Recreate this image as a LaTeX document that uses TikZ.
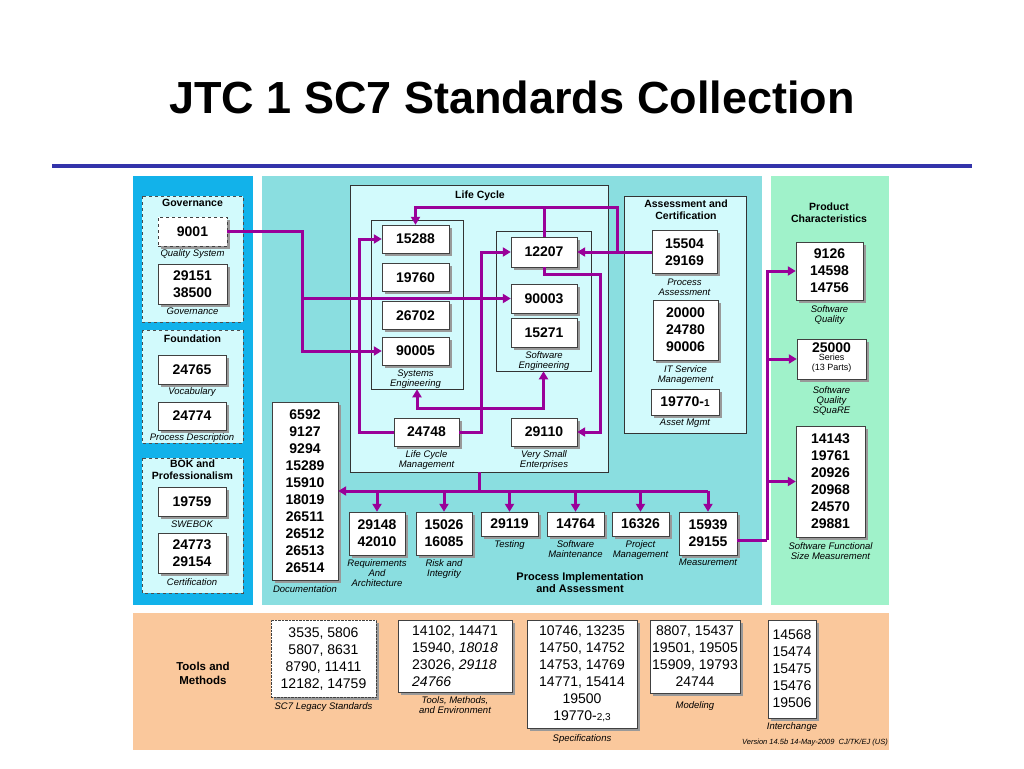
\documentclass[tikz,border=0pt]{standalone}
\usepackage{fontspec}
\setmainfont{Liberation Sans}
\usepackage{tikz}
\usetikzlibrary{positioning,shadows,arrows.meta}

\definecolor{lcpurple}{RGB}{153,0,153}
\definecolor{bluepanel}{RGB}{18,178,234}
\definecolor{tealpanel}{RGB}{138,222,224}
\definecolor{greenpanel}{RGB}{160,242,202}
\definecolor{orangepanel}{RGB}{250,200,156}
\definecolor{lightcyan}{RGB}{210,250,252}
\definecolor{rulecol}{RGB}{51,51,170}

\tikzset{
  std/.style={draw=black!75, fill=white, align=center, inner sep=1pt,
    font=\bfseries\fontsize{14}{17}\selectfont,
    drop shadow={shadow xshift=2.5pt, shadow yshift=-2.5pt, fill=black!40, opacity=1}},
  tool/.style={std, font=\fontsize{14}{17}\selectfont},
  grp/.style={draw=black!80, fill=lightcyan, line width=0.9pt},
  dgrp/.style={draw=black!70, fill=lightcyan, dashed, line width=0.8pt},
  ttl/.style={font=\bfseries\fontsize{10.5}{12}\selectfont, align=center, inner sep=0pt},
  lab/.style={font=\itshape\fontsize{9.5}{10}\selectfont, align=center, inner sep=0pt},
  line/.style={draw=lcpurple, line width=3pt},
  flow/.style={line, -{Triangle[length=8pt,width=9pt]}},
}

\begin{document}
\begin{tikzpicture}[x=1pt,y=-1pt]
\useasboundingbox (0,0) rectangle (1024,768);

% title and rule
\node[font=\bfseries\fontsize{45}{50}\selectfont] (title) at (512,97) {JTC 1 SC7 Standards Collection};
\draw[rulecol, line width=4pt] (52,166) -- (972,166);

% panels
\fill[bluepanel] (133,176) rectangle (253,605);
\fill[tealpanel] (262,176) rectangle (762,605);
\fill[greenpanel] (771,176) rectangle (889,605);
\fill[orangepanel] (133,613) rectangle (889,750);

% left column groups
\draw[dgrp] (142,196) rectangle (243,322);
\draw[dgrp] (142,330) rectangle (243,443);
\draw[dgrp] (142,458) rectangle (243,593);
\node[ttl] (tgov) at (192.5,203) {Governance};
\node[ttl] (tfou) at (192.5,339) {Foundation};
\node[ttl] (tbok) at (192.5,470) {BOK and\\Professionalism};

\node[std, dashed, minimum width=69, minimum height=29] (q9001) at (192.5,231.5) {9001};
\node[lab, below=3pt of q9001] (lq9001) {Quality System};
\node[std, minimum width=69, minimum height=40] (g29151) at (192.5,284) {29151\\38500};
\node[lab, below=3pt of g29151] (lg29151) {Governance};
\node[std, minimum width=68, minimum height=29] (f24765) at (192,369.5) {24765};
\node[lab, below=3pt of f24765] (lf24765) {Vocabulary};
\node[std, minimum width=68, minimum height=28] (f24774) at (192,416) {24774};
\node[lab, below=3pt of f24774] (lf24774) {Process Description};
\node[std, minimum width=68, minimum height=29] (b19759) at (192,501.5) {19759};
\node[lab, below=4pt of b19759] (lb19759) {SWEBOK};
\node[std, minimum width=68, minimum height=40] (b24773) at (192,553) {24773\\29154};
\node[lab, below=5pt of b24773] (lb24773) {Certification};

% life cycle
\node[grp, minimum width=258, minimum height=287] (lc) at (479,328.5) {};
\node[ttl] (tlc) at (480,196) {Life Cycle};
\node[grp, line width=0.6pt, minimum width=92, minimum height=169] (sysbox) at (417,304.5) {};
\node[grp, line width=0.6pt, minimum width=95, minimum height=140] (softbox) at (543.5,301) {};
\node[std, minimum width=67, minimum height=28] (s15288) at (415.5,239) {15288};
\node[std, minimum width=67, minimum height=28] (s19760) at (415.5,277.5) {19760};
\node[std, minimum width=67, minimum height=28] (s26702) at (415.5,315.5) {26702};
\node[std, minimum width=67, minimum height=28] (s90005) at (415.5,351) {90005};
\node[lab, below=4pt of s90005] (ls) {Systems\\Engineering};
\node[std, minimum width=66, minimum height=30] (s12207) at (544,252) {12207};
\node[std, minimum width=66, minimum height=29] (s90003) at (544,298.5) {90003};
\node[std, minimum width=66, minimum height=29] (s15271) at (544,332.5) {15271};
\node[lab, below=4pt of s15271] (lsw) {Software\\Engineering};
\node[std, minimum width=65, minimum height=28] (l24748) at (426.5,432) {24748};
\node[lab, below=4pt of l24748] (ll24748) {Life Cycle\\Management};
\node[std, minimum width=66, minimum height=28] (v29110) at (544,432) {29110};
\node[lab, below=4pt of v29110] (lv29110) {Very Small\\Enterprises};

% assessment and certification
\node[grp, minimum width=122, minimum height=237] (ac) at (685,314.5) {};
\node[ttl] (tac) at (686,210) {Assessment and\\Certification};
\node[std, minimum width=65, minimum height=43] (a15504) at (684.5,252) {15504\\29169};
\node[lab, below=5pt of a15504] (la15504) {Process\\Assessment};
\node[std, minimum width=65, minimum height=60] (a20000) at (685.5,330) {20000\\24780\\90006};
\node[lab, below=5pt of a20000] (la20000) {IT Service\\Management};
\node[std, minimum width=68, minimum height=26] (a19770) at (685,402) {19770-{\fontsize{10}{12}\selectfont 1}};
\node[lab, below=4pt of a19770] (la19770) {Asset Mgmt};

% process implementation
\node[std, minimum width=66, minimum height=178] (doc) at (305,491) {6592\\9127\\9294\\15289\\15910\\18019\\26511\\26512\\26513\\26514};
\node[lab, below=5pt of doc] (ldoc) {Documentation};
\node[std, minimum width=56, minimum height=43] (m29148) at (377,533.5) {29148\\42010};
\node[lab, below=4pt of m29148] (lm29148) {Requirements\\And\\Architecture};
\node[std, minimum width=56, minimum height=43] (m15026) at (444,533.5) {15026\\16085};
\node[lab, below=4pt of m15026] (lm15026) {Risk and\\Integrity};
\node[std, minimum width=57, minimum height=24] (m29119) at (509.5,524) {29119};
\node[lab, below=4pt of m29119] (lm29119) {Testing};
\node[std, minimum width=57, minimum height=24] (m14764) at (575.5,524) {14764};
\node[lab, below=4pt of m14764] (lm14764) {Software\\Maintenance};
\node[std, minimum width=57, minimum height=24] (m16326) at (640.5,524) {16326};
\node[lab, below=4pt of m16326] (lm16326) {Project\\Management};
\node[std, minimum width=58, minimum height=43] (m15939) at (708,533.5) {15939\\29155};
\node[lab, below=4pt of m15939] (lm15939) {Measurement};
\node[ttl, font=\bfseries\fontsize{11}{12}\selectfont] (tpia) at (580,583) {Process Implementation\\and Assessment};

% product characteristics
\node[ttl] (tpc) at (829,213) {Product\\Characteristics};
\node[std, minimum width=69, minimum height=40] (p25000) at (831.5,359) {};
\node[std, minimum width=67, minimum height=58] (p9126) at (829.5,271) {9126\\14598\\14756};
\node[lab, below=5pt of p9126] (lp9126) {Software\\Quality};
\node[font=\bfseries\fontsize{14}{14}\selectfont, inner sep=0pt] (t25000) at (831.5,348) {25000};
\node[font=\fontsize{9}{10}\selectfont, align=center, inner sep=0pt, below=1pt of t25000] (s25000) {Series\\(13 Parts)};
\node[lab, below=7pt of p25000] (lp25000) {Software\\Quality\\SQuaRE};
\node[std, minimum width=69, minimum height=111] (p14143) at (830.5,481.5) {14143\\19761\\20926\\20968\\24570\\29881};
\node[lab, below=5pt of p14143] (lp14143) {Software Functional\\Size Measurement};

% tools and methods
\node[font=\bfseries\fontsize{11.5}{14}\selectfont, align=center] (ttm) at (203,673) {Tools and\\Methods};
\node[tool, densely dotted, minimum width=105, minimum height=77] (t1) at (323.5,658.5) {3535, 5806\\5807, 8631\\8790, 11411\\12182, 14759};
\node[lab, below=5pt of t1] (lt1) {SC7 Legacy Standards};
\node[tool, minimum width=114, minimum height=72, align=left] (t2) at (455,656) {14102, 14471\\15940, \textit{18018}\\23026, \textit{29118}\\\textit{24766}};
\node[lab, below=4pt of t2] (lt2) {Tools, Methods,\\and Environment};
\node[tool, minimum width=110, minimum height=108] (t3) at (582,674) {10746, 13235\\14750, 14752\\14753, 14769\\14771, 15414\\19500\\19770-{\fontsize{10}{12}\selectfont 2,3}};
\node[lab, below=6pt of t3] (lt3) {Specifications};
\node[tool, minimum width=90, minimum height=73] (t4) at (695,656.5) {8807, 15437\\19501, 19505\\15909, 19793\\24744};
\node[lab, below=8pt of t4] (lt4) {Modeling};
\node[tool, minimum width=48, minimum height=98] (t5) at (792,669) {14568\\15474\\15475\\15476\\19506};
\node[lab, below=4pt of t5] (lt5) {Interchange};
\node[font=\itshape\fontsize{7.5}{8}\selectfont, anchor=east, inner sep=0pt] (ver) at (888,743) {Version 14.5b 14-May-2009 \ CJ/TK/EJ (US)};

% connectors
\coordinate (j1) at (302,298.5);
\draw[flow] (q9001.east) -| (j1) |- (s90005.west);
\draw[flow] (j1) -- (j1 -| s90003.west);
\coordinate (j2) at (617,252);
\draw[flow] (a15504.west) -- (a15504.west -| s12207.east);
\draw[flow] (j2) -- (j2 |- 0,207) -| (s15288.north);
\draw[line] (s12207.north) -- (s12207.north |- 0,207);
\draw[flow] (s12207.south) |- (600,274) |- (v29110.east);
\draw[flow] (l24748.west) -- ++(-34,0) |- (s15288.west);
\draw[flow] (l24748.east) -- ++(22,0) |- (s12207.west);
\draw[line, {Triangle[length=8pt,width=9pt]}-{Triangle[length=8pt,width=9pt]}] (sysbox.south) -- ++(0,19) -| (softbox.south);
\draw[flow] (lc.south) |- (doc.east);
\draw[line] (doc.east -| lc.south) -- (doc.east -| m15939.north);
\foreach \m in {m29148,m15026,m29119,m14764,m16326,m15939}
  \draw[flow] (doc.east -| \m.north) -- (\m.north);
\coordinate (j3) at (767,540);
\draw[line] (m15939.east |- j3) -- (j3);
\draw[flow] (j3) |- (p9126.west);
\draw[flow] (j3 |- p25000.west) -- (p25000.west);
\draw[flow] (j3 |- p14143.west) -- (p14143.west);
\end{tikzpicture}
\end{document}
